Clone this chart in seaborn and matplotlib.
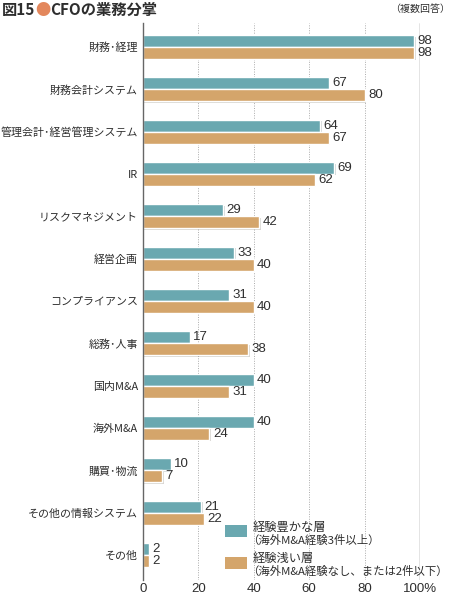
import pandas as pd
import numpy as np
import seaborn as sns
import matplotlib.pyplot as plt
from matplotlib.patches import Rectangle
import matplotlib.patheffects as pe

# data
categories = ["財務･経理", "財務会計システム", "管理会計･経営管理システム", "IR",
              "リスクマネジメント", "経営企画", "コンプライアンス", "総務･人事",
              "国内M&A", "海外M&A", "購買･物流", "その他の情報システム", "その他"]
rich = [98, 67, 64, 69, 29, 33, 31, 17, 40, 40, 10, 21, 2]
shallow = [98, 80, 67, 62, 42, 40, 40, 38, 31, 24, 7, 22, 2]
groups = ["経験豊かな層", "経験浅い層"]
group_notes = ["（海外M&A経験3件以上）", "（海外M&A経験なし、または2件以下）"]
ticks = [0, 20, 40, 60, 80, 100]
tick_labels = ["0", "20", "40", "60", "80", "100%"]

colors = ["#6aa8b0", "#d4a56b"]
txt = "#2e2e2e"
num_font = ["Liberation Sans", "DejaVu Sans"]

sns.set_style("white")
plt.rcParams['font.family'] = ['Noto Sans CJK JP', 'DejaVu Sans']

df = pd.DataFrame({
    "cat": categories * 2,
    "val": rich + shallow,
    "grp": [groups[0]] * len(categories) + [groups[1]] * len(categories),
})

W, H = 452, 595
fig = plt.figure(figsize=(W / 100, H / 100), dpi=100)
ax = fig.add_axes([143 / W, 15 / H, 277 / W, 557 / H])

sns.barplot(data=df, y="cat", x="val", hue="grp", palette=colors, ax=ax,
            width=0.56, gap=0, orient="h", saturation=1, legend=False)

for p in ax.patches:
    p.set_path_effects([pe.SimplePatchShadow(offset=(1.0, -1.0), alpha=0.2), pe.Normal()])

for c in ax.containers:
    ax.bar_label(c, padding=2.4, fontsize=9.5, color=txt, family=num_font)

ax.set_xlim(0, 100)
ax.set_ylim(12.59, -0.567)
ax.set_xticks(ticks)
ax.set_xticklabels(tick_labels, fontsize=9.5, color=txt, family=num_font)
ax.tick_params(axis="y", length=0, pad=3.6, labelsize=7.9, labelcolor=txt)
ax.tick_params(axis="x", length=0, pad=2.5)
ax.set_xlabel("")
ax.set_ylabel("")

for s in ["top", "right", "bottom"]:
    ax.spines[s].set_visible(False)
ax.spines["left"].set_color("#666666")
ax.spines["left"].set_linewidth(1)

for t in ticks[1:-1]:
    ax.axvline(t, color="#aaaaaa", lw=0.7, ls=(0, (1, 1.5)), zorder=0)
ax.axvline(100, color="#777777", lw=1, zorder=0)

# legend drawn by hand: swatch next to the first line of each entry
leg_y = [(525, 527, 540), (557, 558, 571)]
for i, (sq_top, y1, y2) in enumerate(leg_y):
    fig.patches.append(Rectangle((225 / W, 1 - (sq_top + 12) / H), 22 / W, 12 / H,
                                 transform=fig.transFigure, facecolor=colors[i],
                                 edgecolor="none"))
    fig.text(253 / W, 1 - y1 / H, groups[i], fontsize=8.8, color=txt, va="center")
    fig.text(247 / W, 1 - y2 / H, group_notes[i], fontsize=8.2, color=txt, va="center")

# title, pieces chained one after another
fig.canvas.draw()
r = fig.canvas.get_renderer()
x = 2
for s, col, fs, fw in [("図15", txt, 11, "bold"), ("●", "#e3875c", 11, "normal"),
                       ("CFOの業務分掌", txt, 11, "bold")]:
    t = fig.text(x / W, 1 - 10 / H, s, fontsize=fs, fontweight=fw, color=col, va="center")
    bb = t.get_window_extent(r)
    x += bb.width
fig.text(450 / W, 1 - 9 / H, "（複数回答）", fontsize=7.2, ha="right", va="center", color=txt)

fig.savefig("out.png", dpi=100)
